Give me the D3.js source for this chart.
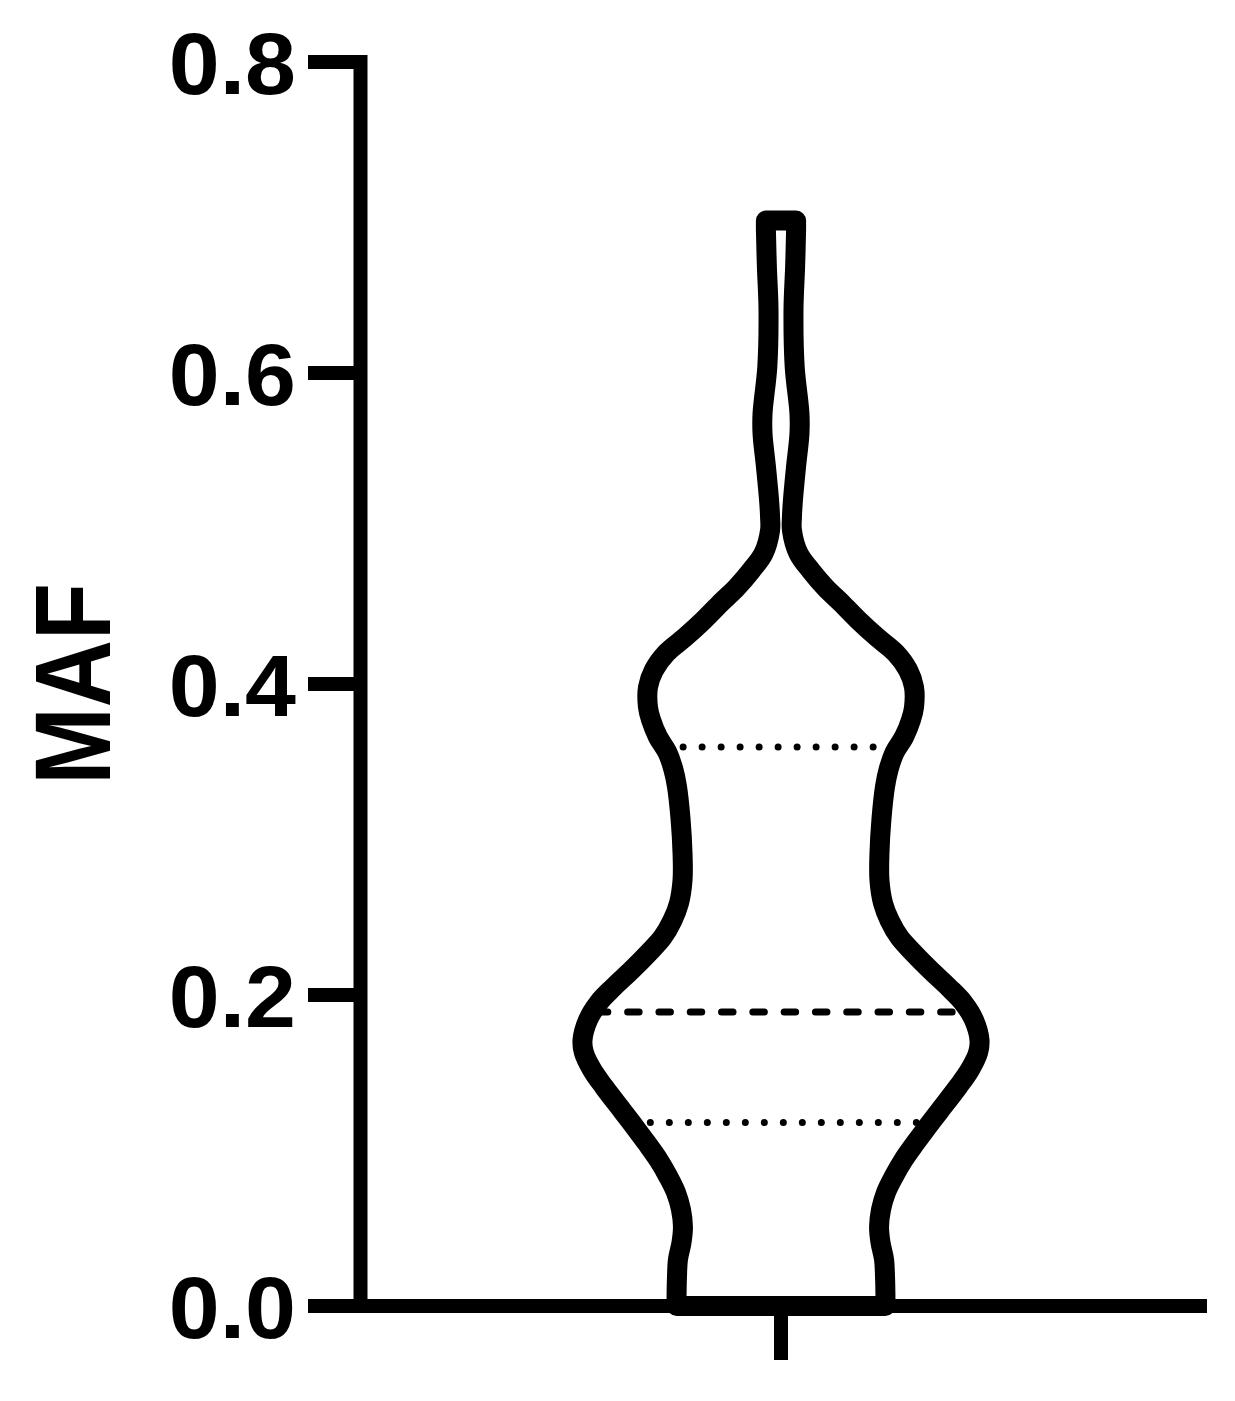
<!DOCTYPE html>
<html>
<head>
<meta charset="utf-8">
<script src="https://cdn.jsdelivr.net/npm/d3@7"></script>
<style>
  html, body { margin: 0; padding: 0; background: #fff; }
  svg { display: block; }
</style>
</head>
<body>
<svg id="chart" width="1235" height="1401"></svg>
<script>
// ---- data ----
const yTicks = [0.0, 0.2, 0.4, 0.6, 0.8];
const tickLabels = ["0.0", "0.2", "0.4", "0.6", "0.8"];
const yLabel = "MAF";
const categories = [""];
// violin profile: MAF value and relative density (half-width, max ~ 1)
const violinValues = [0.000, 0.008, 0.019, 0.030, 0.041, 0.051, 0.062, 0.073, 0.083, 0.094,
  0.105, 0.115, 0.126, 0.141, 0.152, 0.163, 0.171, 0.184, 0.195,
  0.205, 0.216, 0.227, 0.237, 0.248, 0.259, 0.274, 0.291, 0.313, 0.334,
  0.345, 0.356, 0.366, 0.377, 0.385, 0.398, 0.409, 0.420, 0.430, 0.441,
  0.452, 0.462, 0.473, 0.484, 0.499, 0.507, 0.518, 0.540, 0.561, 0.574,
  0.604, 0.641, 0.668, 0.692, 0.698];
const violinDensity = [0.526, 0.526, 0.524, 0.519, 0.501, 0.494, 0.504, 0.529, 0.567, 0.617,
  0.678, 0.736, 0.802, 0.892, 0.952, 0.993, 1.000, 0.972, 0.919,
  0.844, 0.753, 0.668, 0.597, 0.547, 0.514, 0.496, 0.496, 0.506, 0.524,
  0.542, 0.572, 0.620, 0.655, 0.670, 0.670, 0.640, 0.577, 0.484, 0.390,
  0.305, 0.224, 0.150, 0.088, 0.055, 0.055, 0.060, 0.076, 0.093, 0.093,
  0.069, 0.063, 0.071, 0.076, 0.076];
const median = 0.189;
const quartiles = [0.118, 0.3595];

// ---- layout ----
const svg = d3.select("#chart");
const y = d3.scaleLinear().domain([0, 0.8]).range([1306, 62]);
const x = d3.scalePoint().domain(categories).range([358, 1204]).padding(0.5);
const cx = x(categories[0]);
const w = d3.scaleLinear().domain([0, 1]).range([0, 198.5]);

const profile = violinValues.map((v, i) => ({ v, d: violinDensity[i] }));
const halfAt = v => {
  const i = Math.min(Math.max(d3.bisectLeft(violinValues, v), 1), violinValues.length - 1);
  const a = profile[i - 1], b = profile[i];
  const t = (v - a.v) / (b.v - a.v);
  return w(a.d + (b.d - a.d) * t);
};

// quartile / median lines (drawn first, outline covers their ends)
const lines = svg.append("g");
lines.append("line")
  .attr("x1", cx - halfAt(median) + 3.5).attr("x2", cx + halfAt(median))
  .attr("y1", y(median)).attr("y2", y(median))
  .attr("stroke", "#000").attr("stroke-width", 7)
  .attr("stroke-linecap", "round")
  .attr("stroke-dasharray", "11.5,19.8");
lines.selectAll("line.q").data(quartiles).join("line")
  .attr("class", "q")
  .attr("x1", d => cx - halfAt(d)).attr("x2", d => cx + halfAt(d))
  .attr("y1", d => y(d)).attr("y2", d => y(d))
  .attr("stroke", "#000").attr("stroke-width", 7)
  .attr("stroke-linecap", "round")
  .attr("stroke-dasharray", "0,19");

// violin outline
const area = d3.area()
  .x0(p => cx - w(p.d))
  .x1(p => cx + w(p.d))
  .y(p => y(p.v))
  .curve(d3.curveCatmullRom.alpha(0.5));
svg.append("path")
  .datum(profile)
  .attr("d", area)
  .attr("fill", "none")
  .attr("stroke", "#000")
  .attr("stroke-width", 20)
  .attr("stroke-linejoin", "round");

// y axis
const yAxis = svg.append("g");
yAxis.append("line")
  .attr("x1", 360.5).attr("x2", 360.5)
  .attr("y1", y(0.8) - 7).attr("y2", y(0) + 7)
  .attr("stroke", "#000").attr("stroke-width", 14);
yAxis.selectAll("line.t").data(yTicks).join("line")
  .attr("class", "t")
  .attr("x1", 308).attr("x2", 360)
  .attr("y1", d => y(d)).attr("y2", d => y(d))
  .attr("stroke", "#000").attr("stroke-width", 14);
yAxis.selectAll("text").data(yTicks).join("text")
  .attr("transform", d => `translate(296,${y(d)}) scale(1.04,1)`)
  .attr("text-anchor", "end")
  .attr("dy", "0.358em")
  .attr("font-family", "'Liberation Sans', Arial, Helvetica, sans-serif")
  .attr("font-weight", "bold")
  .attr("font-size", 88)
  .text((d, i) => tickLabels[i]);

// x axis
const xAxis = svg.append("g");
xAxis.append("line")
  .attr("x1", 353.5).attr("x2", 1207)
  .attr("y1", y(0)).attr("y2", y(0))
  .attr("stroke", "#000").attr("stroke-width", 14);
xAxis.selectAll("line.t").data(categories).join("line")
  .attr("class", "t")
  .attr("x1", d => x(d)).attr("x2", d => x(d))
  .attr("y1", y(0)).attr("y2", 1360)
  .attr("stroke", "#000").attr("stroke-width", 14);

// y label
svg.append("text")
  .attr("transform", `translate(71.5,${(y(0) + y(0.8)) / 2}) rotate(-90) scale(1,1.15)`)
  .attr("text-anchor", "middle")
  .attr("dy", "0.358em")
  .attr("font-family", "'Liberation Sans', Arial, Helvetica, sans-serif")
  .attr("font-weight", "bold")
  .attr("font-size", 93)
  .text(yLabel);
</script>
</body>
</html>
